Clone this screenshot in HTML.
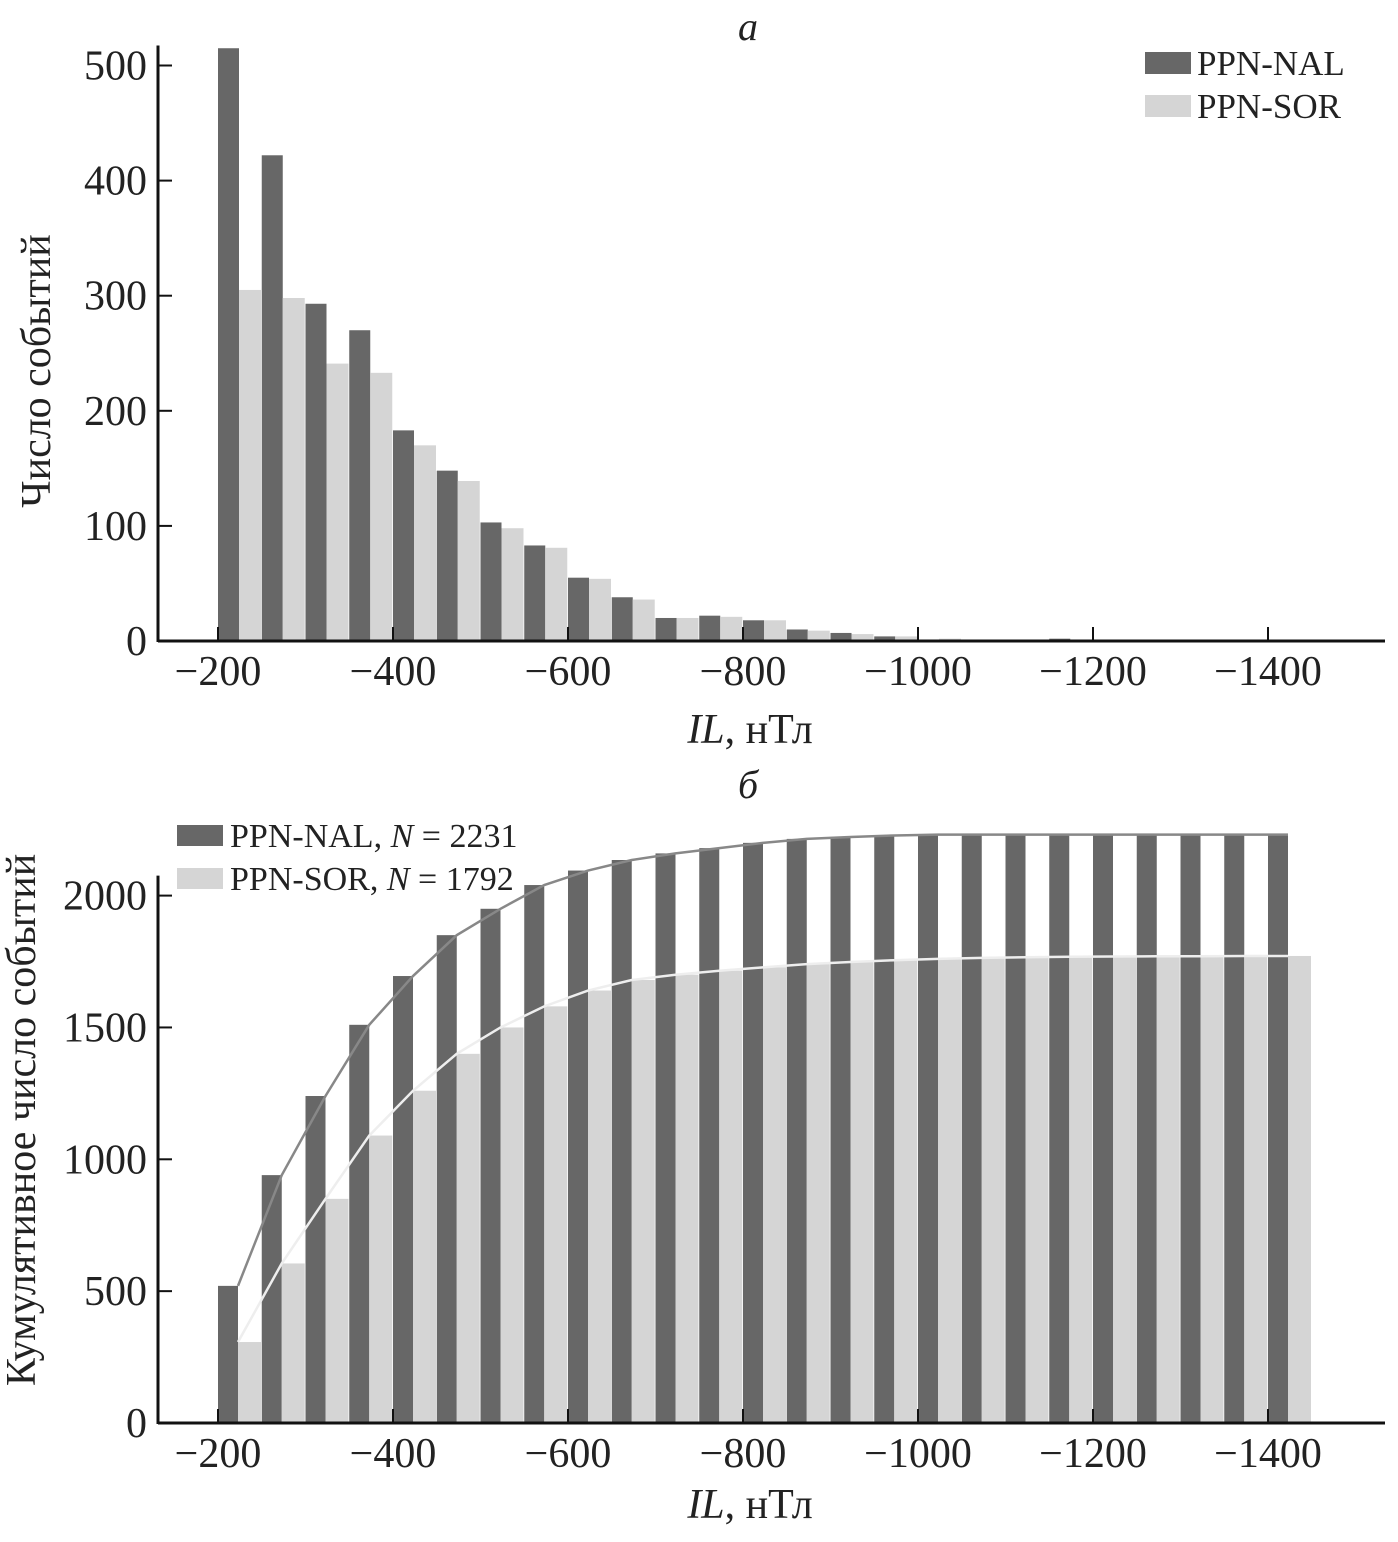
<!DOCTYPE html>
<html><head><meta charset="utf-8"><style>
body{margin:0;background:#fff}
svg text{font-family:"Liberation Serif",serif;fill:#222}
</style></head><body>
<svg width="1398" height="1537" viewBox="0 0 1398 1537" id="fig">
<text x="748" y="40" font-size="40" font-style="italic" text-anchor="middle">а</text>
<text x="748" y="798" font-size="40" font-style="italic" text-anchor="middle">б</text>
<g id="pa"></g>
<g id="pb"></g>
</svg>
<script>
const binStarts=[-200,-250,-300,-350,-400,-450,-500,-550,-600,-650,-700,-750,-800,-850,-900,-950,-1000,-1050,-1100,-1150,-1200,-1250,-1300,-1350,-1400,-1450];
const nalCounts=[515,422,293,270,183,148,103,83,55,38,20,22,18,10,7,4,1,0,0,2,0,0,0,0,0,0];
const sorCounts=[305,298,241,233,170,139,98,81,54,36,20,21,18,9,6,4,2,1,0,1,0,1,0,0,0,0];
const cumNal=[520,940,1240,1510,1695,1850,1950,2040,2095,2135,2160,2180,2200,2215,2222,2228,2231,2231,2231,2231,2231,2231,2231,2231,2231];
const cumSor=[307,605,850,1090,1260,1400,1500,1580,1640,1680,1700,1715,1728,1740,1748,1755,1760,1764,1766,1768,1769,1770,1770,1771,1771];
const xTicks=[-200,-400,-600,-800,-1000,-1200,-1400];
const yTicksA=[0,100,200,300,400,500];
const yTicksB=[0,500,1000,1500,2000];
const NS="http://www.w3.org/2000/svg";
function el(p,t,a,txt){const e=document.createElementNS(NS,t);for(const k in a)e.setAttribute(k,a[k]);if(txt!==undefined)e.textContent=txt;p.appendChild(e);return e;}
const xs=v=>218+(v+200)*(-0.875);
const DARK="#676767",LIGHT="#d5d5d5";
function axes(g,y0,ys,yt,ylab,ylx,yly,xlY){
  let l=el(g,'line',{x1:158,y1:y0,x2:1385,y2:y0,stroke:'#111','stroke-width':3});
  
  l=el(g,'line',{x1:158,y1:y0+1,x2:158,y2:ys(yt[yt.length-1])-20,stroke:'#111','stroke-width':3});
  
  xTicks.forEach(v=>{
    el(g,'line',{x1:xs(v),y1:y0,x2:xs(v),y2:y0-14,stroke:'#111','stroke-width':2});
    const t=el(g,'text',{x:xs(v),y:y0+44,'font-size':42,'text-anchor':'middle'},'\u2212'+(-v));
    
  });
  yt.forEach(v=>{
    el(g,'line',{x1:158,y1:ys(v),x2:172,y2:ys(v),stroke:'#111','stroke-width':2});
    const t=el(g,'text',{x:147,y:ys(v)+14,'font-size':42,'text-anchor':'end'},v);
    
  });
  let t=el(g,'text',{x:ylx,y:yly,'font-size':42,'text-anchor':'middle',transform:`rotate(-90 ${ylx} ${yly})`},ylab);
  
  t=el(g,'text',{x:750,y:xlY,'font-size':42,'text-anchor':'middle'});
  
  el(t,'tspan',{'font-style':'italic'},'IL');el(t,'tspan',{},', нТл');
}
// Panel A
const ga=document.getElementById('pa');
const ysA=v=>641-v*1.151;
binStarts.forEach((b,i)=>{
  const x=xs(b);
  if(nalCounts[i]>0){const r=el(ga,'rect',{x:x,y:ysA(nalCounts[i]),width:21,height:641-ysA(nalCounts[i]),fill:DARK});
  }
  if(sorCounts[i]>0){const r=el(ga,'rect',{x:x+21,y:ysA(sorCounts[i]),width:22,height:641-ysA(sorCounts[i]),fill:LIGHT});
  }
});
axes(ga,641,ysA,yTicksA,'Число событий',50,371,743);
let lg=el(ga,'g',{});
el(lg,'rect',{x:1145,y:52,width:46,height:22,fill:DARK});
el(lg,'text',{x:1197,y:75,'font-size':35},'PPN-NAL');
el(lg,'rect',{x:1145,y:95,width:46,height:22,fill:LIGHT});
el(lg,'text',{x:1197,y:118,'font-size':35},'PPN-SOR');
// Panel B
const gb=document.getElementById('pb');
const ysB=v=>1423-v*0.2637;
let pn=[],ps=[];
cumNal.forEach((v,i)=>{
  const x=xs(binStarts[i]);
  let r=el(gb,'rect',{x:x,y:ysB(v),width:20,height:1423-ysB(v),fill:DARK});
  
  r=el(gb,'rect',{x:x+20,y:ysB(cumSor[i]),width:23,height:1423-ysB(cumSor[i]),fill:LIGHT});
  
  pn.push((x+20)+','+ysB(v));ps.push((x+20)+','+ysB(cumSor[i]));
});
let pl=el(gb,'polyline',{points:pn.join(' '),fill:'none',stroke:'#888','stroke-width':2.5});

pl=el(gb,'polyline',{points:ps.join(' '),fill:'none',stroke:'#eee','stroke-width':2.5});

axes(gb,1423,ysB,yTicksB,'Кумулятивное число событий',35,1120,1518);
lg=el(gb,'g',{});
el(lg,'rect',{x:177,y:825,width:46,height:21,fill:DARK});
let t=el(lg,'text',{x:230,y:847,'font-size':34});el(t,'tspan',{},'PPN-NAL, ');el(t,'tspan',{'font-style':'italic'},'N');el(t,'tspan',{},' = 2231');
el(lg,'rect',{x:177,y:868,width:46,height:21,fill:LIGHT});
t=el(lg,'text',{x:230,y:890,'font-size':34});el(t,'tspan',{},'PPN-SOR, ');el(t,'tspan',{'font-style':'italic'},'N');el(t,'tspan',{},' = 1792');
</script>
</body></html>
